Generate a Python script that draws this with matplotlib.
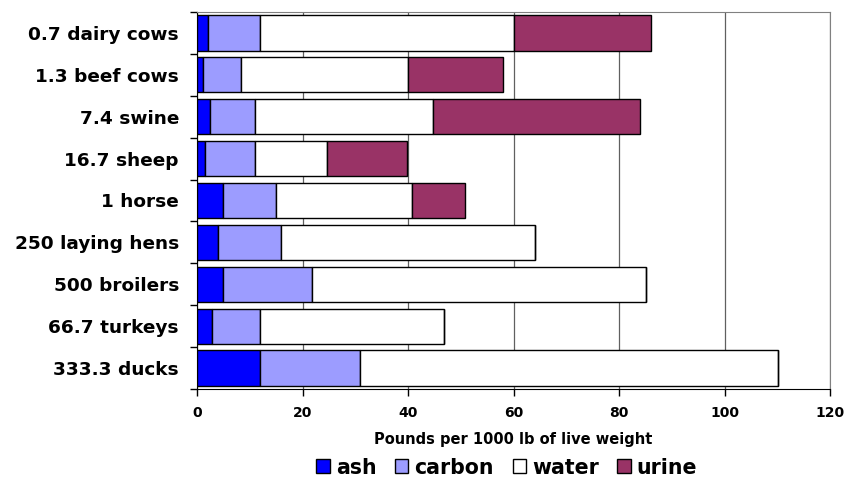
"""
Stacked horizontal bars: manure composition per 1000 lb of live weight
"""
import numpy as np
import matplotlib
matplotlib.use("Agg")
import matplotlib.pyplot as pl

animals = ["0.7 dairy cows", "1.3 beef cows", "7.4 swine", "16.7 sheep", "1 horse",
           "250 laying hens", "500 broilers", "66.7 turkeys", "333.3 ducks"]
# segment widths
ash = [2.0, 1.1, 2.4, 1.6, 4.9, 4.0, 5.0, 2.8, 12.0]
carbon = [10.0, 7.3, 8.6, 9.4, 10.1, 12.0, 16.8, 9.2, 18.8]
water = [48.0, 31.6, 33.7, 13.7, 25.8, 48.0, 63.2, 34.8, 79.2]
urine = [26.0, 18.0, 39.3, 15.1, 9.9, 0.0, 0.0, 0.0, 0.0]

series_names = ["ash", "carbon", "water", "urine"]
series_colors = ["#0000ff", "#9c9cff", "#ffffff", "#993366"]

pl.rcParams['font.family'] = ['DejaVu Sans']

fig = pl.figure(figsize=(8.49, 4.79), dpi=100)
ax = fig.add_axes([0.232, 0.188, 0.746, 0.787])

y_pos = np.arange(len(animals))
left = np.zeros(len(animals))
handles = []
for values, name, color in zip([ash, carbon, water, urine], series_names, series_colors):
    values = np.array(values)
    h = ax.barh(y_pos, values, left=left, height=0.84, color=color,
                edgecolor="black", linewidth=1.0, label=name, zorder=3)
    handles.append(h)
    left = left + values

ax.set_xlim(0, 120)
ax.set_ylim(len(animals) - 0.5, -0.5)
ax.set_xticks(np.arange(0, 121, 20))
ax.set_yticks(y_pos)
ax.set_yticklabels(animals, fontsize=13.3, fontweight="bold")
ax.set_yticks(np.arange(-0.5, len(animals), 1.0), minor=True)
ax.tick_params(axis="y", which="major", length=0, pad=13)
ax.tick_params(axis="y", which="minor", length=5, direction="out", width=1)
ax.tick_params(axis="x", length=5, direction="out", width=1, labelsize=10, pad=7)
for lab in ax.get_xticklabels():
    lab.set_fontweight("bold")

ax.grid(True, axis="x", color="#606060", linewidth=0.9, zorder=0)
ax.set_axisbelow(True)
ax.spines["top"].set_color("#808080")
ax.spines["right"].set_color("#808080")
ax.spines["left"].set_color("black")
ax.spines["bottom"].set_color("black")

ax.set_xlabel("Pounds per 1000 lb of live weight", fontsize=10.5, fontweight="bold", labelpad=9)

fig.legend(handles=handles, labels=series_names, loc="center", bbox_to_anchor=(0.597, 0.024),
           ncol=4, frameon=False, prop={"size": 14.8, "weight": "bold"},
           handlelength=0.65, handleheight=0.65, handletextpad=0.3, columnspacing=0.9,
           borderpad=0.1)

fig.savefig("out.png", dpi=100)
